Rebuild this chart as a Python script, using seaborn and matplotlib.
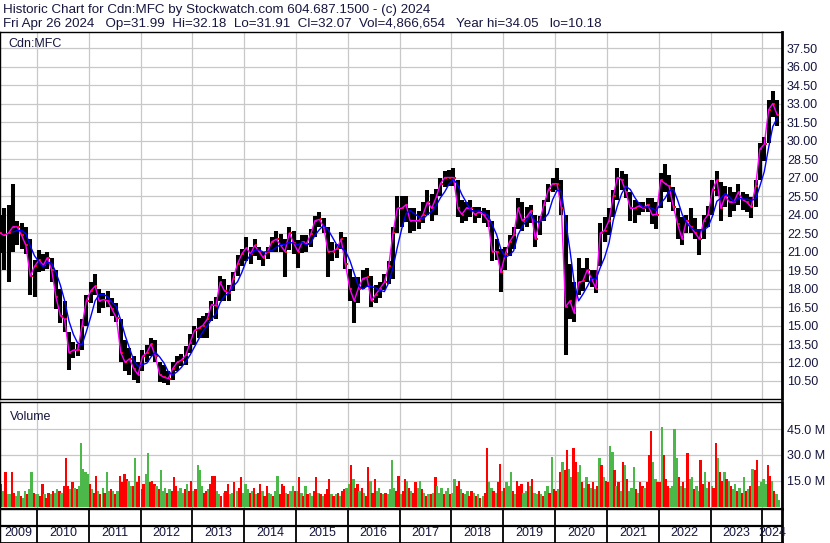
import numpy as np
import pandas as pd
import seaborn as sns
import matplotlib.pyplot as plt
import matplotlib.dates as mdates

# Monthly high / low / close, Apr 2009 - Apr 2024
high = [
    24.0, 24.5, 24.8, 26.5, 23.5, 23.3, 23.0, 22.0, 20.3,                    # 2009
    21.1, 20.8, 21.0, 20.5, 19.5, 18.0, 17.0, 14.5, 13.7, 13.5, 15.5, 17.5,  # 2010
    18.5, 19.2, 18.0, 17.6, 17.8, 17.2, 16.8, 15.5, 13.8, 13.2, 12.5, 12.0,  # 2011
    13.0, 13.4, 14.0, 13.8, 12.0, 11.8, 11.3, 12.0, 12.5, 12.7, 13.3, 14.3,  # 2012
    15.0, 15.6, 15.8, 16.0, 17.0, 17.3, 19.0, 18.8, 18.3, 19.3, 20.7, 21.2,  # 2013
    22.2, 21.4, 22.0, 21.4, 21.0, 21.4, 22.2, 22.7, 22.4, 22.0, 23.0, 22.7,  # 2014
    21.9, 22.3, 22.3, 22.8, 23.9, 24.2, 23.7, 23.0, 21.8, 21.6, 22.6, 22.2,  # 2015
    19.6, 18.9, 18.9, 19.5, 19.7, 19.0, 18.3, 18.5, 19.2, 20.2, 23.0, 25.5,  # 2016
    25.5, 25.5, 24.5, 24.5, 24.3, 25.0, 26.0, 25.7, 26.1, 27.0, 27.5, 27.6,  # 2017
    27.8, 26.8, 25.2, 25.0, 25.2, 24.6, 24.6, 24.5, 24.4, 23.5, 22.0, 21.2,  # 2018
    21.4, 22.3, 23.0, 25.3, 25.0, 24.6, 24.8, 24.0, 23.9, 25.2, 26.5, 27.0,  # 2019
    27.8, 26.8, 24.0, 20.0, 18.5, 20.5, 19.7, 20.5, 19.5, 19.5, 23.3, 23.8,  # 2020
    24.5, 26.0, 27.8, 27.5, 27.3, 25.8, 25.2, 25.0, 25.0, 25.3, 25.3, 25.0,  # 2021
    27.4, 28.1, 27.2, 26.2, 24.5, 23.8, 24.0, 24.5, 23.7, 22.8, 24.0, 24.7,  # 2022
    26.8, 27.5, 26.6, 26.3, 26.2, 25.8, 26.5, 25.8, 25.7, 25.4, 26.8, 29.8,  # 2023
    30.3, 33.3, 34.05, 33.3,                                                 # 2024
]
low = [
    20.9, 19.5, 18.5, 21.0, 21.5, 21.2, 20.8, 17.5, 17.3,
    19.3, 19.4, 19.6, 18.5, 16.3, 15.2, 14.5, 11.4, 12.4, 12.5, 13.0, 15.0,
    16.8, 17.5, 16.0, 16.4, 16.5, 15.8, 15.3, 12.0, 11.3, 11.0, 10.6, 10.3,
    11.3, 12.0, 12.5, 12.0, 10.4, 10.3, 10.2, 10.6, 11.3, 11.7, 11.8, 12.8,
    13.4, 14.0, 14.0, 14.0, 15.4, 15.5, 17.0, 17.0, 17.0, 17.8, 19.0, 19.8,
    20.2, 20.0, 20.6, 20.3, 19.8, 20.4, 21.0, 21.0, 21.0, 18.9, 21.1, 20.8,
    19.7, 20.9, 21.0, 21.4, 22.2, 23.0, 22.5, 18.9, 20.2, 20.5, 21.2, 19.6,
    17.0, 15.2, 16.8, 18.0, 18.1, 16.5, 16.8, 17.2, 17.9, 18.4, 18.8, 22.5,
    23.0, 23.4, 22.5, 22.7, 22.8, 23.3, 24.0, 23.5, 24.0, 25.5, 26.2, 26.3,
    26.3, 23.8, 23.3, 23.5, 23.8, 23.3, 23.7, 23.3, 23.0, 20.2, 20.3, 17.7,
    19.5, 20.6, 21.2, 22.8, 22.7, 23.0, 23.3, 21.4, 22.3, 23.5, 25.0, 25.8,
    26.0, 24.0, 12.6, 15.5, 15.3, 17.5, 17.8, 18.5, 18.1, 17.6, 19.8, 21.8,
    22.3, 23.8, 25.2, 26.0, 25.3, 23.5, 23.3, 24.0, 24.2, 24.2, 23.2, 22.8,
    24.5, 25.8, 25.0, 24.3, 22.0, 21.5, 22.5, 22.5, 22.0, 20.7, 22.0, 23.0,
    24.0, 25.5, 23.5, 24.6, 23.8, 24.3, 24.8, 24.4, 24.2, 23.7, 24.6, 26.8,
    28.3, 29.8, 31.9, 31.2,
]
close = [
    22.5, 22.3, 22.5, 23.0, 23.0, 22.3, 21.5, 19.0, 19.8,
    20.3, 19.9, 20.5, 19.5, 17.3, 15.8, 15.5, 12.8, 13.0, 13.0, 15.0, 17.0,
    17.8, 18.2, 17.0, 17.1, 17.0, 16.3, 15.6, 12.8, 12.0, 12.3, 11.5, 11.0,
    12.5, 12.8, 13.5, 12.5, 11.0, 10.8, 10.7, 11.5, 12.0, 12.2, 12.6, 13.6,
    14.6, 14.8, 15.0, 15.5, 16.7, 16.6, 18.5, 17.8, 17.6, 18.8, 20.0, 20.8,
    21.3, 20.8, 21.5, 21.0, 20.5, 21.0, 21.8, 22.0, 21.5, 21.0, 22.5, 21.7,
    21.0, 21.8, 21.6, 22.4, 23.5, 23.6, 23.0, 21.0, 21.0, 21.2, 22.0, 20.0,
    18.0, 17.0, 18.0, 18.8, 18.9, 17.0, 17.5, 18.0, 18.5, 19.8, 22.5, 24.5,
    24.5, 24.8, 23.5, 23.5, 23.5, 24.0, 25.0, 24.5, 25.4, 26.5, 27.0, 27.0,
    27.0, 24.5, 24.0, 24.5, 24.5, 24.0, 24.2, 24.0, 23.5, 21.0, 21.0, 19.3,
    20.8, 21.8, 22.3, 24.5, 23.5, 23.8, 24.3, 22.0, 23.5, 24.8, 26.0, 26.5,
    26.5, 24.5, 16.5, 17.0, 16.0, 18.5, 18.6, 19.5, 18.8, 18.0, 22.5, 22.7,
    23.5, 25.5, 27.0, 26.8, 25.8, 24.5, 24.5, 24.7, 24.5, 24.8, 24.0, 24.0,
    26.8, 26.5, 26.3, 24.6, 23.2, 22.0, 23.5, 23.0, 22.5, 22.0, 23.5, 24.0,
    26.0, 26.8, 24.5, 25.5, 25.0, 25.0, 25.8, 25.2, 25.0, 24.6, 26.3, 29.3,
    29.7, 32.5, 33.0, 32.07,
]

# Half-monthly volume in millions, with up (g) / down (r) colouring
volume = [
    13, 9, 20, 7, 7, 20, 8, 6, 9, 6, 5, 9, 7, 10, 20, 8, 7,
    7, 6, 13, 7, 5, 8, 7, 9, 8, 10, 9, 8, 12, 28, 12, 10, 14, 11, 10, 12, 37, 22, 20, 19,
    13, 10, 8, 18, 9, 7, 11, 8, 20, 9, 10, 9, 7, 9, 18, 14, 19, 16, 15, 12, 12, 28, 14, 18,
    10, 13, 19, 31, 14, 15, 13, 12, 10, 21, 9, 11, 8, 10, 9, 17, 12, 9, 11, 8, 10, 13, 9, 15,
    9, 10, 24, 21, 12, 8, 9, 10, 13, 18, 18, 9, 7, 6, 8, 9, 13, 7, 8, 14, 9, 11, 17, 8,
    13, 10, 8, 9, 11, 7, 8, 13, 9, 6, 12, 8, 7, 6, 9, 18, 7, 13, 12, 8, 7, 9, 12, 9,
    9, 17, 8, 6, 12, 7, 8, 6, 9, 17, 8, 7, 6, 7, 10, 16, 7, 6, 7, 8, 6, 9, 10, 11,
    13, 24, 16, 11, 13, 9, 11, 8, 6, 23, 15, 8, 16, 9, 11, 8, 7, 8, 7, 10, 27, 11, 9, 18,
    7, 9, 16, 15, 11, 9, 8, 14, 11, 15, 10, 8, 6, 7, 7, 8, 17, 12, 8, 11, 7, 9, 11, 7,
    8, 16, 12, 15, 10, 8, 7, 9, 6, 9, 8, 6, 7, 5, 6, 8, 34, 14, 11, 9, 8, 14, 25, 9,
    11, 14, 12, 20, 9, 7, 15, 12, 13, 8, 9, 14, 12, 16, 8, 7, 9, 7, 6, 9, 12, 8, 29, 10,
    9, 10, 20, 26, 21, 33, 22, 17, 34, 26, 20, 24, 14, 11, 17, 13, 11, 14, 10, 12, 28, 24, 17, 15,
    14, 35, 32, 21, 12, 14, 9, 26, 24, 16, 9, 11, 23, 10, 8, 14, 12, 11, 14, 30, 44, 26, 16, 14,
    14, 46, 30, 16, 12, 11, 12, 45, 28, 17, 12, 14, 11, 31, 16, 17, 10, 12, 9, 27, 13, 20, 11, 14,
    12, 11, 37, 28, 20, 15, 20, 16, 15, 12, 10, 13, 9, 11, 8, 17, 9, 10, 12, 22, 21, 27, 12, 14,
    16, 13, 24, 18, 15, 9, 7, 4,
]
vol_dir = ("rgrggrrggrggrggrg"
           "grrgrrgrggrgrrrgrgrggggg"
           "rgrrgrgrggrgrgrrrrggrgrr"
           "rrggrrrgrgggrgrrrgggrgrr"
           "grgggrrgrrrggrgrrggrgrrg"
           "ggrgrgrrgrrggrggrrrgrggr"
           "grgrgrggrrgrgrrrgrgrgrrg"
           "grgrrgrgrrgrrggrgrggggrr"
           "grrgrgrrggrgrgrgrgggrggr"
           "ggrrgrggrrgrgrgrrggrgrrg"
           "rgggrgrrrggrgrggrgrggrgr"
           "rgrgrrggrrggrggrgrgrgrgr"
           "rggrgrgrgrgggrgrrgrrrggr"
           "rgrrrggggrgrgrggrggrrggr"
           "grrgrrgrgrggrgrgrgrgrrgg"
           "ggrrgrgg")

price_ticks = np.arange(10.5, 37.6, 1.5)
vol_ticks = [15, 30, 45]
years = list(range(2009, 2025))

title1 = "Historic Chart for Cdn:MFC by Stockwatch.com 604.687.1500 - (c) 2024"
title2 = ("Fri Apr 26 2024   Op=31.99  Hi=32.18  Lo=31.91  Cl=32.07  "
          "Vol=4,866,654   Year hi=34.05   lo=10.18")

sns.set_style('white')
plt.rcParams['font.family'] = ['Liberation Sans', 'DejaVu Sans']
navy = '#16163f'
grid_c = '#c8c8c8'

months = pd.date_range('2009-04-01', '2024-04-01', freq='MS') + pd.Timedelta(days=14)
halves = pd.date_range('2009-04-15', '2024-04-15', freq='SMS')

df = pd.DataFrame({'date': mdates.date2num(months), 'high': high,
                   'low': low, 'close': close})
df['ma_long'] = df['close'].rolling(4).mean()

vdf = pd.DataFrame({'date': mdates.date2num(halves), 'vol': volume,
                    'dir': list(vol_dir)})
vcolors = vdf['dir'].map({'r': '#ff0000', 'g': '#4cb84a'})

x0 = mdates.date2num(pd.Timestamp('2009-04-19'))
x1 = mdates.date2num(pd.Timestamp('2024-05-19'))
year_starts = [mdates.date2num(pd.Timestamp(f'{y}-01-01')) for y in years]

fig = plt.figure(figsize=(8.3, 5.43), dpi=100)
ax = fig.add_axes([0.0006, 0.26519, 0.94157, 0.67588])
axv = fig.add_axes([0.0006, 0.06262, 0.94157, 0.19705])
axy = fig.add_axes([0.0006, 0.0, 0.94157, 0.06262])

# price panel
for xs in year_starts[1:]:
    ax.axvline(xs, color=grid_c, lw=0.9, zorder=0)
for t in price_ticks:
    ax.axhline(t, color=grid_c, lw=0.9, zorder=0)
ax.vlines(df['date'], df['low'], df['high'], color='black', lw=2.9, zorder=2)
ax.scatter(df['date'] + 9, df['close'], s=4, marker='s', color='red',
           lw=0, zorder=3)
sns.lineplot(data=df, x='date', y='close', color='#ff00ff', lw=1.0,
             ax=ax, zorder=4)
sns.lineplot(data=df, x='date', y='ma_long', color='#0000ff', lw=1.0,
             ax=ax, zorder=5)
ax.set_xlim(x0, x1)
ax.set_ylim(9.04, 38.8)
ax.set_xticks([])
ax.set_yticks(price_ticks)
ax.set_yticklabels([f'{t:.2f}' for t in price_ticks])
ax.yaxis.tick_right()
ax.tick_params(axis='y', length=0, pad=3.6, labelsize=9, labelcolor=navy)
ax.set_xlabel('')
ax.set_ylabel('')
ax.text(0.0105, 0.958, 'Cdn:MFC', transform=ax.transAxes, fontsize=9,
        color=navy, va='baseline')

# volume panel
for xs in year_starts[1:]:
    axv.axvline(xs, color=grid_c, lw=0.9, zorder=0)
for t in vol_ticks:
    axv.axhline(t, color=grid_c, lw=0.9, zorder=0)
axv.bar(vdf['date'], vdf['vol'], width=16.5, align='edge', color=vcolors,
        lw=0, zorder=2)
axv.set_xlim(x0, x1)
axv.set_ylim(-1.45, 60.8)
axv.set_xticks([])
axv.set_yticks(vol_ticks)
axv.set_yticklabels([f'{t:.1f} M' for t in vol_ticks])
axv.yaxis.tick_right()
axv.tick_params(axis='y', length=0, pad=3.6, labelsize=9, labelcolor=navy)
axv.text(0.0115, 0.83, 'Volume', transform=axv.transAxes, fontsize=9,
         color=navy, va='baseline')

# year strip
axy.set_xlim(x0, x1)
axy.set_ylim(0, 1)
axy.set_xticks([])
axy.set_yticks([])
axy.axhline(0.5, color='black', lw=1.6)
for xs in year_starts[1:]:
    axy.axvline(xs, color='black', lw=1.3)
for i, y in enumerate(years):
    a = max(year_starts[i], x0)
    b = min(year_starts[i + 1], x1) if i + 1 < len(years) else x1
    axy.text((a + b) / 2, 0.22, str(y), ha='center', va='baseline',
             fontsize=9, color=navy, clip_on=False)

for a_ in (ax, axv, axy):
    for s in a_.spines.values():
        s.set_color('black')
        s.set_linewidth(1.0)
    a_.spines['right'].set_linewidth(2.0)
axv.spines['bottom'].set_linewidth(1.6)
axy.spines['bottom'].set_linewidth(2.0)

fig.text(0.0036, 1 - 13.5 / 543, title1, fontsize=9.6, color=navy, va='baseline')
fig.text(0.0036, 1 - 27.5 / 543, title2, fontsize=9.6, color=navy, va='baseline')

fig.savefig('out.png', dpi=100)
